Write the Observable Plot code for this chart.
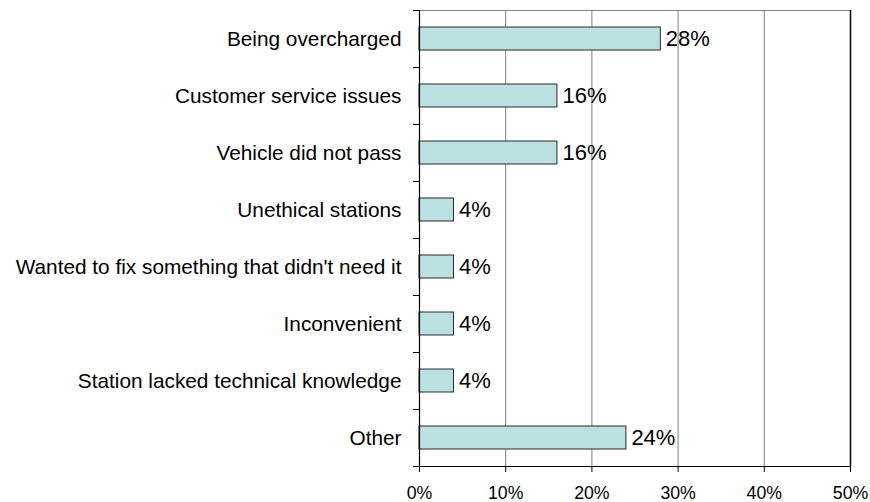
<!DOCTYPE html>
<html>
<head>
<meta charset="utf-8">
<script src="https://cdn.jsdelivr.net/npm/d3@7"></script>
<script src="https://cdn.jsdelivr.net/npm/@observablehq/plot@0.6"></script>
<style>
  html, body { margin: 0; padding: 0; background: #fff; }
</style>
</head>
<body>
<div id="chart"></div>
<script>
const categories = [
  "Being overcharged",
  "Customer service issues",
  "Vehicle did not pass",
  "Unethical stations",
  "Wanted to fix something that didn't need it",
  "Inconvenient",
  "Station lacked technical knowledge",
  "Other"
];
const values = [28, 16, 16, 4, 4, 4, 4, 24];
const xTicks = [0, 10, 20, 30, 40, 50];
const gridTicks = [10, 20, 30, 40];

const data = categories.map((c, i) => ({category: c, value: values[i]}));

const W = 870, H = 502, mT = 10, mB = 36, mL = 419, mR = 20;
const step = (H - mT - mB) / categories.length;
const last = categories[categories.length - 1];

const chart = Plot.plot({
  width: W,
  height: H,
  marginTop: mT,
  marginBottom: mB,
  marginLeft: mL,
  marginRight: mR,
  style: {fontFamily: "'Liberation Sans', Arial, sans-serif", background: "#fff", color: "#000"},
  x: {domain: [0, 50], label: null},
  y: {domain: categories, paddingInner: 0.6, paddingOuter: 0.3, label: null},
  marks: [
    Plot.ruleX(gridTicks, {stroke: "#808080", strokeWidth: 1}),
    Plot.ruleY([categories[0]], {x1: 0, x2: 50, dy: -step / 2, stroke: "#808080"}),
    Plot.ruleX([50], {stroke: "#000", strokeWidth: 1.5}),
    Plot.barX(data, {x: "value", y: "category", fill: "#bae0e2", stroke: "#2a2a2a", strokeWidth: 1}),
    Plot.ruleX([0], {stroke: "#000", strokeWidth: 1.2}),
    Plot.ruleY([last], {x1: 0, x2: 50, dy: step / 2, stroke: "#000", strokeWidth: 1.2}),
    Plot.ruleY(categories, {y: d => d, x1: 0, x2: 0, insetLeft: -6, dy: -step / 2, stroke: "#000"}),
    Plot.ruleY([last], {y: d => d, x1: 0, x2: 0, insetLeft: -6, dy: step / 2, stroke: "#000"}),
    Plot.axisY({tickSize: 0, tickPadding: 18, fontSize: 20.8, fill: "#000", label: null}),
    Plot.axisX({ticks: xTicks, tickFormat: d => d + "%", tickSize: 6, tickPadding: 14, fontSize: 17.7, fill: "#000", stroke: "#000", label: null}),
    Plot.text(data, {x: "value", y: "category", text: d => d.value + "%", textAnchor: "start", dx: 5, fontSize: 22, fill: "#000"})
  ]
});
document.getElementById("chart").appendChild(chart);
</script>
</body>
</html>
